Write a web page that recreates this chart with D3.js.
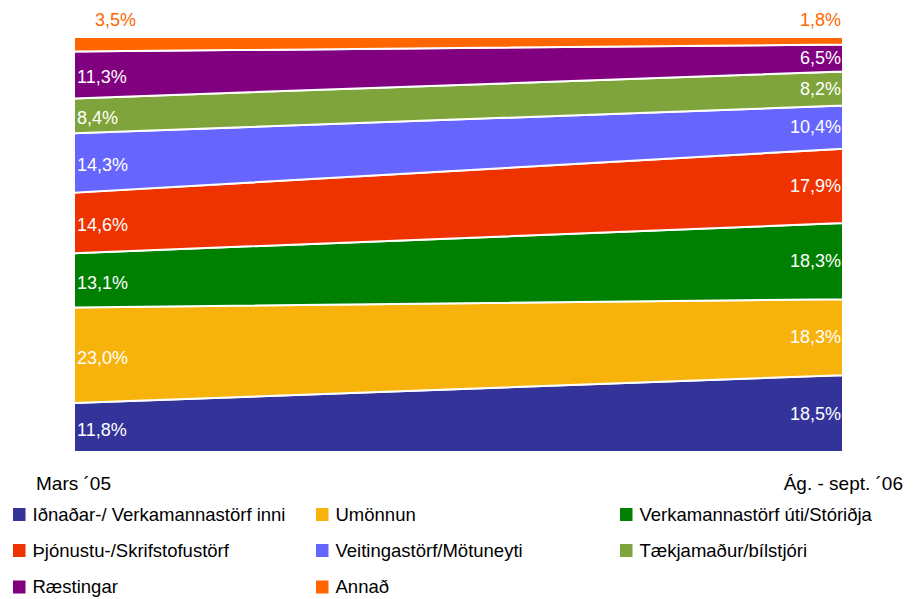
<!DOCTYPE html>
<html><head><meta charset="utf-8">
<script src="https://cdn.jsdelivr.net/npm/d3@7"></script>
<style>body{margin:0;background:#fff}svg{display:block;font-family:"Liberation Sans",Arial,sans-serif}</style>
</head><body><svg id="c" width="919" height="599"></svg>
<script>
const periods = ["Mars ´05", "Ág. - sept. ´06"];
const categories = ["Iðnaðar-/ Verkamannastörf inni","Umönnun","Verkamannastörf úti/Stóriðja","Þjónustu-/Skrifstofustörf","Veitingastörf/Mötuneyti","Tækjamaður/bílstjóri","Ræstingar","Annað"];
const valuesMars05 = [11.8, 23.0, 13.1, 14.6, 14.3, 8.4, 11.3, 3.5];
const valuesAgSept06 = [18.5, 18.3, 18.3, 17.9, 10.4, 8.2, 6.5, 1.8];
const labelsMars05 = ["11,8%","23,0%","13,1%","14,6%","14,3%","8,4%","11,3%","3,5%"];
const labelsAgSept06 = ["18,5%","18,3%","18,3%","17,9%","10,4%","8,2%","6,5%","1,8%"];
const colors = ["#333399","#F7B30B","#008000","#EE3300","#6666FF","#80A43C","#800080","#FF6600"];

const svg = d3.select("#c");
const x = d3.scaleLinear().domain([0,1]).range([74,843]);
const y = d3.scaleLinear().domain([0,1]).range([452,37]);

const rows = periods.map((p,i)=>{
  const o = {period:i};
  const vals = i===0?valuesMars05:valuesAgSept06;
  categories.forEach((c,j)=>o[c]=vals[j]);
  return o;
});
const series = d3.stack().keys(categories).offset(d3.stackOffsetExpand)(rows);

const area = d3.area().x(d=>x(d.data.period)).y0(d=>y(d[0])).y1(d=>y(d[1]));
svg.append("g").selectAll("path").data(series).join("path")
  .attr("d",area).attr("fill",(d,i)=>colors[i])
  .attr("stroke","#fff").attr("stroke-width",2);

// labels
const lab = svg.append("g").attr("font-size",18);
series.forEach((s,i)=>{
  const last = i===series.length-1;
  [0,1].forEach(k=>{
    const d = s[k];
    const txt = (k===0?labelsMars05:labelsAgSept06)[i];
    let ty = last ? 20 : (y(d[0])+y(d[1]))/2 + (k===0?2:0);
    lab.append("text")
      .attr("x", k===0 ? (last?95:77) : 841)
      .attr("y", ty).attr("dy","0.35em")
      .attr("text-anchor", k===0?"start":"end")
      .attr("fill", last? colors[i] : "#fff")
      .text(txt);
  });
});

// x labels
svg.append("text").attr("x",36).attr("y",483).attr("dy","0.35em").attr("font-size",19).text(periods[0]);
svg.append("text").attr("x",903).attr("y",483).attr("dy","0.35em").attr("text-anchor","end").attr("font-size",19).text(periods[1]);

// legend
const colX = [13,316,620];
const rowY = [514.5,550.5,587];
const lg = svg.append("g");
categories.forEach((c,i)=>{
  const cx = colX[i%3], cy = rowY[Math.floor(i/3)];
  lg.append("rect").attr("x",cx).attr("y",cy-6.5).attr("width",12.5).attr("height",13).attr("fill",colors[i]);
  lg.append("text").attr("x",cx+19.5).attr("y",cy).attr("dy","0.35em").attr("font-size",18.5).text(c);
});
</script></body></html>
